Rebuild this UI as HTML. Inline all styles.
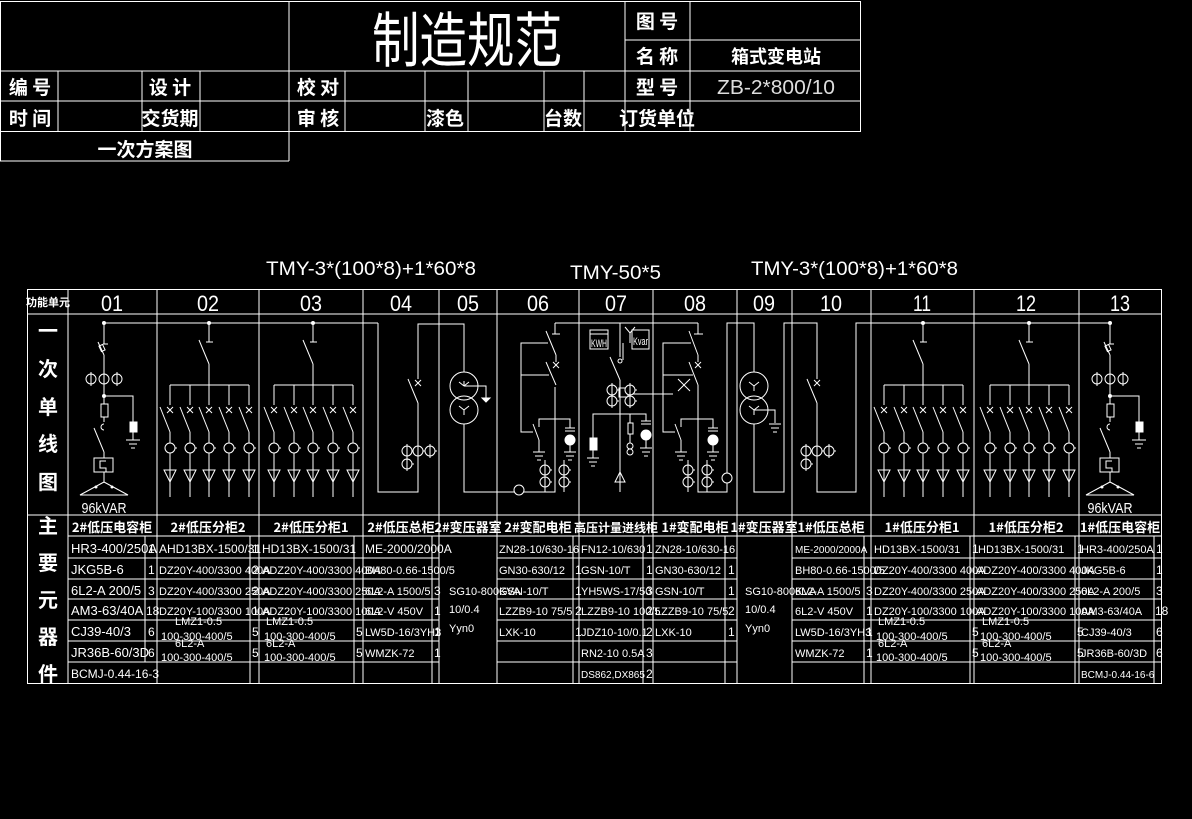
<!DOCTYPE html>
<html><head><meta charset="utf-8"><style>
html,body{margin:0;padding:0;background:#000;}
svg{display:block}
text{fill:#fff;font-family:"Liberation Sans","Noto Sans CJK SC",sans-serif}
.c{font-family:"Noto Sans CJK SC","WenQuanYi Zen Hei",sans-serif;font-weight:bold}
.t{font-size:12px}
</style></head><body>
<svg width="1192" height="819" viewBox="0 0 1192 819" xmlns="http://www.w3.org/2000/svg">
<rect width="1192" height="819" fill="#000"/>
<defs>
<g id="br" stroke="#fff" stroke-width="1" fill="none">
<line x1="0" y1="385" x2="0" y2="405"/>
<line x1="-3" y1="407" x2="3" y2="413"/><line x1="3" y1="407" x2="-3" y2="413"/>
<line x1="-10" y1="407" x2="0" y2="432"/>
<line x1="0" y1="432" x2="0" y2="497"/>
<circle cx="0" cy="448" r="5" fill="#000"/><line x1="5" y1="448" x2="7" y2="448"/>
<polygon points="-6,470 6,470 0,482" fill="#000"/>
<line x1="0" y1="468" x2="0" y2="497"/>
</g>
<g id="fd" stroke="#fff" stroke-width="1" fill="none">
<circle cx="0" cy="323" r="1.5" fill="#fff"/>
<line x1="0" y1="323" x2="0" y2="342"/><line x1="-3" y1="342" x2="4" y2="342"/>
<line x1="-10" y1="340" x2="0" y2="364"/>
<line x1="0" y1="364" x2="0" y2="385"/>
<line x1="-39" y1="385" x2="40" y2="385"/>
<use href="#br" x="-39"/><use href="#br" x="-19"/><use href="#br" x="0"/><use href="#br" x="20"/><use href="#br" x="40"/>
</g>
<g id="cap" stroke="#fff" stroke-width="1" fill="none">
<circle cx="0" cy="323" r="1.5" fill="#fff"/>
<line x1="0" y1="323" x2="0" y2="344"/><line x1="-1" y1="344" x2="4" y2="344"/>
<line x1="-6" y1="342" x2="0" y2="355"/><rect x="-4" y="345" width="4" height="6" transform="rotate(-25 -2 348)"/>
<line x1="0" y1="355" x2="0" y2="396"/>
<circle cx="-13" cy="379" r="5"/><circle cx="0" cy="379" r="5"/><circle cx="13" cy="379" r="5"/>
<line x1="-13" y1="372" x2="-13" y2="386"/><line x1="13" y1="372" x2="13" y2="386"/>
<circle cx="0" cy="396" r="1.5" fill="#fff"/>
<polyline points="0,396 29,396 29,422"/>
<rect x="26" y="422" width="7" height="10" fill="#fff"/>
<line x1="29" y1="432" x2="29" y2="440"/><line x1="22" y1="440" x2="36" y2="440"/><line x1="25" y1="444" x2="33" y2="444"/><line x1="27" y1="448" x2="31" y2="448"/>
<line x1="0" y1="396" x2="0" y2="404"/><rect x="-3" y="404" width="7" height="13"/>
<line x1="0" y1="417" x2="0" y2="422"/><path d="M0,424 a3,3 0 1,0 0,6"/>
<line x1="-10" y1="428" x2="0" y2="452"/><line x1="0" y1="452" x2="0" y2="458"/>
<rect x="-10" y="458" width="19" height="14"/><polyline points="2,461 -4,461 -4,468 2,468 2,472"/>
<line x1="0" y1="472" x2="0" y2="482"/>
<polyline points="0,482 -24,495 24,495 0,482"/>
<circle cx="-8" cy="487" r="1" fill="#fff"/><circle cx="8" cy="487" r="1" fill="#fff"/>
</g>
<g id="ct" stroke="#fff" fill="#000"><circle cx="0" cy="0" r="5"/><line x1="0" y1="-7" x2="0" y2="7"/><line x1="5" y1="0" x2="7" y2="0"/></g>
<g id="gnd" stroke="#fff"><line x1="-6" y1="0" x2="6" y2="0"/><line x1="-4" y1="4" x2="4" y2="4"/><line x1="-2" y1="8" x2="2" y2="8"/></g>
</defs>

<!-- TITLE BLOCK -->
<g stroke="#fff" stroke-width="1" fill="none">
<rect x="0.5" y="1.5" width="860" height="130"/>
<line x1="289" y1="1" x2="289" y2="161"/>
<line x1="0" y1="71" x2="860" y2="71"/>
<line x1="0" y1="101" x2="860" y2="101"/>
<line x1="0" y1="161" x2="289" y2="161"/>
<line x1="0.5" y1="131" x2="0.5" y2="161"/>
<line x1="625" y1="1" x2="625" y2="131"/>
<line x1="690" y1="1" x2="690" y2="131"/>
<line x1="625" y1="40" x2="860" y2="40"/>
<line x1="58" y1="71" x2="58" y2="131"/><line x1="142" y1="71" x2="142" y2="131"/>
<line x1="200" y1="71" x2="200" y2="131"/><line x1="345" y1="71" x2="345" y2="131"/>
<line x1="425" y1="71" x2="425" y2="131"/><line x1="468" y1="71" x2="468" y2="131"/>
<line x1="544" y1="71" x2="544" y2="131"/><line x1="584" y1="71" x2="584" y2="131"/>
</g>
<text class="c" x="467" y="62" font-size="60" font-weight="normal" text-anchor="middle" textLength="190" lengthAdjust="spacingAndGlyphs" style="font-weight:normal">制造规范</text>
<g class="c" font-size="19" text-anchor="middle">
<text class="c" x="657" y="28">图 号</text>
<text class="c" x="657" y="63">名 称</text>
<text class="c" x="776" y="63" font-size="18">箱式变电站</text>
<text class="c" x="30" y="94">编 号</text>
<text class="c" x="170" y="94">设 计</text>
<text class="c" x="318" y="94">校 对</text>
<text class="c" x="657" y="94">型 号</text>
<text class="c" x="30" y="125">时 间</text>
<text class="c" x="170" y="125">交货期</text>
<text class="c" x="318" y="125">审 核</text>
<text class="c" x="445" y="125">漆色</text>
<text class="c" x="563" y="125">台数</text>
<text class="c" x="657" y="125">订货单位</text>
<text class="c" x="145" y="156">一次方案图</text>
</g>
<text x="776" y="94" font-size="20" text-anchor="middle" textLength="118" lengthAdjust="spacingAndGlyphs" style="fill:#ddd">ZB-2*800/10</text>

<!-- bus labels -->
<text x="266" y="275" font-size="19" textLength="210" lengthAdjust="spacingAndGlyphs">TMY-3*(100*8)+1*60*8</text>
<text x="570" y="279" font-size="19" textLength="91" lengthAdjust="spacingAndGlyphs">TMY-50*5</text>
<text x="751" y="275" font-size="19" textLength="207" lengthAdjust="spacingAndGlyphs">TMY-3*(100*8)+1*60*8</text>

<!-- MAIN GRID -->
<g stroke="#fff" stroke-width="1" fill="none">
<rect x="27.5" y="289.5" width="1134" height="394"/>
<line x1="27" y1="314" x2="1162" y2="314"/>
<line x1="27" y1="515" x2="1162" y2="515"/>
<line x1="68" y1="536" x2="1162" y2="536"/>
<line x1="68" y1="289" x2="68" y2="683"/>
<line x1="157" y1="289" x2="157" y2="683"/><line x1="259" y1="289" x2="259" y2="683"/>
<line x1="363" y1="289" x2="363" y2="683"/><line x1="439" y1="289" x2="439" y2="683"/>
<line x1="497" y1="289" x2="497" y2="683"/><line x1="579" y1="289" x2="579" y2="683"/>
<line x1="653" y1="289" x2="653" y2="683"/><line x1="737" y1="289" x2="737" y2="683"/>
<line x1="792" y1="289" x2="792" y2="683"/><line x1="871" y1="289" x2="871" y2="683"/>
<line x1="974" y1="289" x2="974" y2="683"/><line x1="1079" y1="289" x2="1079" y2="683"/>
<!-- qty columns -->
<line x1="145" y1="536" x2="145" y2="662"/><line x1="250" y1="536" x2="250" y2="683"/>
<line x1="354" y1="536" x2="354" y2="683"/><line x1="432" y1="536" x2="432" y2="683"/>
<line x1="573" y1="536" x2="573" y2="683"/><line x1="643" y1="536" x2="643" y2="683"/>
<line x1="725" y1="536" x2="725" y2="683"/><line x1="864" y1="536" x2="864" y2="683"/>
<line x1="970" y1="536" x2="970" y2="683"/><line x1="1075" y1="536" x2="1075" y2="683"/>
<line x1="1154" y1="536" x2="1154" y2="683"/>
<!-- rows -->
<path d="M68 558H439M497 558H737M792 558H1162 M68 579H439M497 579H737M792 579H1162 M68 599H439M497 599H737M792 599H1162 M68 620H439M497 620H737M792 620H1162 M68 641H439M497 641H737M792 641H1162 M68 662H439M497 662H737M792 662H1162"/>
</g>

<!-- headers -->
<text class="c" x="48" y="306" font-size="11" text-anchor="middle">功能单元</text>
<g font-size="22" text-anchor="middle">
<text x="112" y="311" textLength="22" lengthAdjust="spacingAndGlyphs">01</text>
<text x="208" y="311" textLength="22" lengthAdjust="spacingAndGlyphs">02</text>
<text x="311" y="311" textLength="22" lengthAdjust="spacingAndGlyphs">03</text>
<text x="401" y="311" textLength="22" lengthAdjust="spacingAndGlyphs">04</text>
<text x="468" y="311" textLength="22" lengthAdjust="spacingAndGlyphs">05</text>
<text x="538" y="311" textLength="22" lengthAdjust="spacingAndGlyphs">06</text>
<text x="616" y="311" textLength="22" lengthAdjust="spacingAndGlyphs">07</text>
<text x="695" y="311" textLength="22" lengthAdjust="spacingAndGlyphs">08</text>
<text x="764" y="311" textLength="22" lengthAdjust="spacingAndGlyphs">09</text>
<text x="831" y="311" textLength="22" lengthAdjust="spacingAndGlyphs">10</text>
<text x="922" y="311" textLength="18" lengthAdjust="spacingAndGlyphs">11</text>
<text x="1026" y="311" textLength="20" lengthAdjust="spacingAndGlyphs">12</text>
<text x="1120" y="311" textLength="20" lengthAdjust="spacingAndGlyphs">13</text>
</g>
<g font-size="20" text-anchor="middle">
<text class="c" x="48" y="338">一</text><text class="c" x="48" y="376">次</text><text class="c" x="48" y="414">单</text><text class="c" x="48" y="451">线</text><text class="c" x="48" y="489">图</text>
<text class="c" x="48" y="533">主</text><text class="c" x="48" y="570">要</text><text class="c" x="48" y="607">元</text><text class="c" x="48" y="644">器</text><text class="c" x="48" y="681">件</text>
</g>
<g font-size="13" text-anchor="middle">
<text class="c" x="112" y="532">2#低压电容柜</text>
<text class="c" x="208" y="532">2#低压分柜2</text>
<text class="c" x="311" y="532">2#低压分柜1</text>
<text class="c" x="401" y="532">2#低压总柜</text>
<text class="c" x="468" y="532">2#变压器室</text>
<text class="c" x="538" y="532">2#变配电柜</text>
<text class="c" x="616" y="532" font-size="12">高压计量进线柜</text>
<text class="c" x="695" y="532">1#变配电柜</text>
<text class="c" x="764" y="532">1#变压器室</text>
<text class="c" x="831" y="532">1#低压总柜</text>
<text class="c" x="922" y="532">1#低压分柜1</text>
<text class="c" x="1026" y="532">1#低压分柜2</text>
<text class="c" x="1120" y="532">1#低压电容柜</text>
</g>

<!-- parts text -->
<g font-size="13">
<text x="71" y="553">HR3-400/250A</text><text x="71" y="574">JKG5B-6</text><text x="71" y="595">6L2-A 200/5</text><text x="71" y="615">AM3-63/40A</text><text x="71" y="636">CJ39-40/3</text><text x="71" y="657">JR36B-60/3D</text><text x="71" y="678" font-size="12">BCMJ-0.44-16-3</text>
</g>
<g class="t">
<text x="148" y="553">1</text><text x="148" y="574">1</text><text x="148" y="595">3</text><text x="146" y="615">18</text><text x="148" y="636">6</text><text x="148" y="657">6</text>
<text x="159" y="553">AHD13BX-1500/31</text><text x="159" y="574" font-size="11">DZ20Y-400/3300 400A</text><text x="159" y="595" font-size="11">DZ20Y-400/3300 250A</text><text x="159" y="615" font-size="11">DZ20Y-100/3300 100A</text>
<text x="175" y="625" font-size="11">LMZ1-0.5</text><text x="161" y="640" font-size="11">100-300-400/5</text><text x="175" y="647" font-size="11">6L2-A</text><text x="161" y="661" font-size="11">100-300-400/5</text>
<text x="252" y="553">1</text><text x="252" y="574">2</text><text x="252" y="595">2</text><text x="252" y="615">1</text><text x="252" y="636">5</text><text x="252" y="657">5</text>
<text x="262" y="553">HD13BX-1500/31</text><text x="262" y="574" font-size="11">ADZ20Y-400/3300 400A</text><text x="262" y="595" font-size="11">ADZ20Y-400/3300 250A</text><text x="262" y="615" font-size="11">ADZ20Y-100/3300 100A</text>
<text x="266" y="625" font-size="11">LMZ1-0.5</text><text x="264" y="640" font-size="11">100-300-400/5</text><text x="266" y="647" font-size="11">6L2-A</text><text x="264" y="661" font-size="11">100-300-400/5</text>
<text x="356" y="636">5</text><text x="356" y="657">5</text>
<text x="365" y="553">ME-2000/2000A</text><text x="365" y="574" font-size="11">BH80-0.66-1500/5</text><text x="365" y="595" font-size="11">6L2-A 1500/5</text><text x="365" y="615" font-size="11">6L2-V  450V</text><text x="365" y="636" font-size="11">LW5D-16/3YH3</text><text x="365" y="657" font-size="11">WMZK-72</text>
<text x="434" y="595">3</text><text x="434" y="615">1</text><text x="434" y="636">1</text><text x="434" y="657">1</text>
<text x="449" y="595" font-size="11">SG10-800KVA</text><text x="449" y="613" font-size="11">10/0.4</text><text x="449" y="632" font-size="11">Yyn0</text>
<text x="499" y="553" font-size="11">ZN28-10/630-16</text><text x="499" y="574" font-size="11">GN30-630/12</text><text x="499" y="595" font-size="11">GSN-10/T</text><text x="499" y="615" font-size="11">LZZB9-10 75/5</text><text x="499" y="636" font-size="11">LXK-10</text>
<text x="575" y="574">1</text><text x="575" y="595">1</text><text x="575" y="615">2</text><text x="575" y="636">1</text>
<text x="581" y="553" font-size="11">FN12-10/630</text><text x="581" y="574" font-size="11">GSN-10/T</text><text x="581" y="595" font-size="11">YH5WS-17/50</text><text x="581" y="615" font-size="11">LZZB9-10 100/5</text><text x="581" y="636" font-size="11">JDZ10-10/0.1</text><text x="581" y="657" font-size="11">RN2-10 0.5A</text><text x="581" y="678" font-size="10">DS862,DX865</text>
<text x="646" y="553">1</text><text x="646" y="574">1</text><text x="646" y="595">3</text><text x="646" y="615">2</text><text x="646" y="636">2</text><text x="646" y="657">3</text><text x="646" y="678">2</text>
<text x="655" y="553" font-size="11">ZN28-10/630-16</text><text x="655" y="574" font-size="11">GN30-630/12</text><text x="655" y="595" font-size="11">GSN-10/T</text><text x="655" y="615" font-size="11">LZZB9-10 75/5</text><text x="655" y="636" font-size="11">LXK-10</text>
<text x="728" y="574">1</text><text x="728" y="595">1</text><text x="728" y="615">2</text><text x="728" y="636">1</text>
<text x="745" y="595" font-size="11">SG10-800KVA</text><text x="745" y="613" font-size="11">10/0.4</text><text x="745" y="632" font-size="11">Yyn0</text>
<text x="795" y="553" font-size="10">ME-2000/2000A</text><text x="795" y="574" font-size="11">BH80-0.66-1500/5</text><text x="795" y="595" font-size="11">6L2-A 1500/5</text><text x="795" y="615" font-size="11">6L2-V  450V</text><text x="795" y="636" font-size="11">LW5D-16/3YH3</text><text x="795" y="657" font-size="11">WMZK-72</text>
<text x="866" y="595">3</text><text x="866" y="615">1</text><text x="866" y="636">1</text><text x="866" y="657">1</text>
<text x="874" y="553" font-size="11">HD13BX-1500/31</text><text x="874" y="574" font-size="11">DZ20Y-400/3300 400A</text><text x="874" y="595" font-size="11">DZ20Y-400/3300 250A</text><text x="874" y="615" font-size="11">DZ20Y-100/3300 100A</text>
<text x="878" y="625" font-size="11">LMZ1-0.5</text><text x="876" y="640" font-size="11">100-300-400/5</text><text x="878" y="647" font-size="11">6L2-A</text><text x="876" y="661" font-size="11">100-300-400/5</text>
<text x="972" y="553">1</text><text x="972" y="636">5</text><text x="972" y="657">5</text>
<text x="978" y="553" font-size="11">HD13BX-1500/31</text><text x="976" y="574" font-size="11">ADZ20Y-400/3300 400A</text><text x="976" y="595" font-size="11">ADZ20Y-400/3300 250A</text><text x="976" y="615" font-size="11">ADZ20Y-100/3300 100A</text>
<text x="982" y="625" font-size="11">LMZ1-0.5</text><text x="980" y="640" font-size="11">100-300-400/5</text><text x="982" y="647" font-size="11">6L2-A</text><text x="980" y="661" font-size="11">100-300-400/5</text>
<text x="1077" y="553">1</text><text x="1077" y="636">5</text><text x="1077" y="657">5</text>
<text x="1081" y="553" font-size="11">HR3-400/250A</text><text x="1081" y="574" font-size="11">JKG5B-6</text><text x="1081" y="595" font-size="11">6L2-A 200/5</text><text x="1081" y="615" font-size="11">AM3-63/40A</text><text x="1081" y="636" font-size="11">CJ39-40/3</text><text x="1081" y="657" font-size="11">JR36B-60/3D</text><text x="1081" y="678" font-size="10">BCMJ-0.44-16-6</text>
<text x="1156" y="553">1</text><text x="1156" y="574">1</text><text x="1156" y="595">3</text><text x="1155" y="615">18</text><text x="1156" y="636">6</text><text x="1156" y="657">6</text>
</g>

<!-- DIAGRAM -->
<g stroke="#fff" stroke-width="1" fill="none">
<line x1="104" y1="323" x2="378" y2="323"/>
<polyline points="378,323 378,492 418,492 418,403"/>
<polyline points="418,379 418,324 464,324 464,372"/>
<line x1="408" y1="379" x2="418" y2="403"/>
<line x1="415" y1="380" x2="421" y2="386"/><line x1="421" y1="380" x2="415" y2="386"/>
<circle cx="464" cy="386" r="14"/><circle cx="464" cy="410" r="14"/>
<path d="M464,386 l0,-5 M464,386 l-5,-4 M464,386 l5,-4"/>
<path d="M464,410 l0,5 M464,410 l-5,-4 M464,410 l5,-4"/>
<polyline points="464,386 486,386 486,398"/><polygon points="482,398 490,398 486,402" fill="#fff"/>
<polyline points="464,424 464,492 555,492 555,387"/>
<circle cx="519" cy="490" r="5" fill="#000"/>
<!-- col 06 -->
<line x1="555" y1="323" x2="698" y2="323"/>
<line x1="555" y1="323" x2="555" y2="334"/><line x1="552" y1="334" x2="560" y2="334"/>
<line x1="546" y1="331" x2="556" y2="355"/><line x1="556" y1="355" x2="556" y2="362"/>
<line x1="553" y1="362" x2="559" y2="368"/><line x1="559" y1="362" x2="553" y2="368"/>
<line x1="546" y1="362" x2="556" y2="385"/>
<polyline points="548,343 521,343 521,432 533,432"/><line x1="521" y1="375" x2="549" y2="375"/>
<line x1="533" y1="424" x2="539" y2="440"/><line x1="539" y1="440" x2="539" y2="452"/>
<polyline points="539,427 539,419 570,419 570,428"/>
<line x1="565" y1="428" x2="575" y2="428"/><line x1="565" y1="431" x2="575" y2="431"/>
<circle cx="570" cy="440" r="5" fill="#fff"/><line x1="570" y1="445" x2="570" y2="452"/>
<line x1="545" y1="460" x2="545" y2="492"/><line x1="564" y1="460" x2="564" y2="492"/>
<!-- col 07 -->
<rect x="590" y="330" width="18" height="19"/><line x1="590" y1="334" x2="608" y2="334"/>
<rect x="632" y="330" width="17" height="19"/>
<path d="M625,327 l5,6 l5,-6 M630,333 v10"/>
<line x1="620" y1="323" x2="620" y2="357"/><line x1="610" y1="357" x2="620" y2="380"/>
<line x1="620" y1="380" x2="620" y2="492"/>
<line x1="623" y1="343" x2="623" y2="360"/><circle cx="620" cy="361" r="2"/>
<rect x="619" y="388" width="9" height="9"/>
<line x1="628" y1="394" x2="673" y2="394"/>
<polyline points="593,438 593,414 646,414 646,421"/>
<rect x="590" y="438" width="7" height="12" fill="#fff"/>
<line x1="593" y1="450" x2="593" y2="458"/>
<line x1="630" y1="414" x2="630" y2="423"/><rect x="628" y="423" width="5" height="11"/>
<line x1="630" y1="434" x2="630" y2="443"/><circle cx="630" cy="446" r="3"/><circle cx="630" cy="452" r="3"/>
<line x1="641" y1="421" x2="651" y2="421"/><line x1="641" y1="424" x2="651" y2="424"/>
<circle cx="646" cy="435" r="5" fill="#fff"/><line x1="646" y1="440" x2="646" y2="448"/>
<polygon points="615,482 625,482 620,472"/>
<!-- col 08 -->
<line x1="698" y1="323" x2="698" y2="334"/><line x1="694" y1="334" x2="703" y2="334"/>
<line x1="689" y1="331" x2="698" y2="355"/><line x1="698" y1="355" x2="698" y2="362"/>
<line x1="695" y1="362" x2="701" y2="368"/><line x1="701" y1="362" x2="695" y2="368"/>
<line x1="689" y1="362" x2="698" y2="385"/>
<polyline points="698,385 698,492 727,492 727,323 754,323 754,372"/>
<polyline points="691,343 663,343 663,432 675,432"/><line x1="663" y1="375" x2="693" y2="375"/>
<line x1="678" y1="379" x2="690" y2="391"/><line x1="690" y1="379" x2="678" y2="391"/>
<line x1="675" y1="424" x2="681" y2="440"/><line x1="681" y1="440" x2="681" y2="452"/>
<polyline points="681,427 681,419 713,419 713,428"/>
<line x1="708" y1="428" x2="718" y2="428"/><line x1="708" y1="431" x2="718" y2="431"/>
<circle cx="713" cy="440" r="5" fill="#fff"/><line x1="713" y1="445" x2="713" y2="452"/>
<line x1="688" y1="460" x2="688" y2="492"/><line x1="707" y1="460" x2="707" y2="492"/>
<circle cx="727" cy="478" r="5" fill="#000"/>
<!-- col 09 -->
<circle cx="754" cy="386" r="14"/><circle cx="754" cy="410" r="14"/>
<path d="M754,386 l0,5 M754,386 l-5,-4 M754,386 l5,-4"/>
<path d="M754,410 l0,5 M754,410 l-5,-4 M754,410 l5,-4"/>
<polyline points="754,410 775,410 775,423"/>
<polyline points="754,424 754,492 784,492 784,323 817,323 817,379"/>
<line x1="807" y1="379" x2="817" y2="403"/>
<line x1="814" y1="380" x2="820" y2="386"/><line x1="820" y1="380" x2="814" y2="386"/>
<polyline points="817,403 817,492 856,492 856,323 1110,323"/>
</g>
<!-- repeated elements -->
<use href="#gnd" x="539" y="452"/><use href="#gnd" x="570" y="452"/>
<use href="#gnd" x="593" y="458"/><use href="#gnd" x="646" y="448"/>
<use href="#gnd" x="681" y="452"/><use href="#gnd" x="713" y="452"/>
<use href="#gnd" x="775" y="424"/>
<use href="#ct" x="407" y="451"/><use href="#ct" x="418" y="451"/><use href="#ct" x="430" y="451"/><use href="#ct" x="407" y="464"/>
<use href="#ct" x="806" y="451"/><use href="#ct" x="817" y="451"/><use href="#ct" x="829" y="451"/><use href="#ct" x="806" y="464"/>
<use href="#ct" x="545" y="470"/><use href="#ct" x="545" y="482"/><use href="#ct" x="564" y="470"/><use href="#ct" x="564" y="482"/>
<use href="#ct" x="688" y="470"/><use href="#ct" x="688" y="482"/><use href="#ct" x="707" y="470"/><use href="#ct" x="707" y="482"/>
<use href="#ct" x="612" y="390"/><use href="#ct" x="612" y="401"/><use href="#ct" x="630" y="390"/><use href="#ct" x="630" y="401"/>
<use href="#fd" x="209"/><use href="#fd" x="313"/><use href="#fd" x="923"/><use href="#fd" x="1029"/>
<use href="#cap" x="104"/><use href="#cap" x="1110"/>
<text x="104" y="513" font-size="15" text-anchor="middle" textLength="45" lengthAdjust="spacingAndGlyphs">96kVAR</text>
<text x="1110" y="513" font-size="15" text-anchor="middle" textLength="45" lengthAdjust="spacingAndGlyphs">96kVAR</text>
<text x="591" y="347" font-size="11" textLength="16" lengthAdjust="spacingAndGlyphs">KWH</text>
<text x="633" y="345" font-size="11" textLength="15" lengthAdjust="spacingAndGlyphs">Kvar</text>
</svg>
</body></html>
